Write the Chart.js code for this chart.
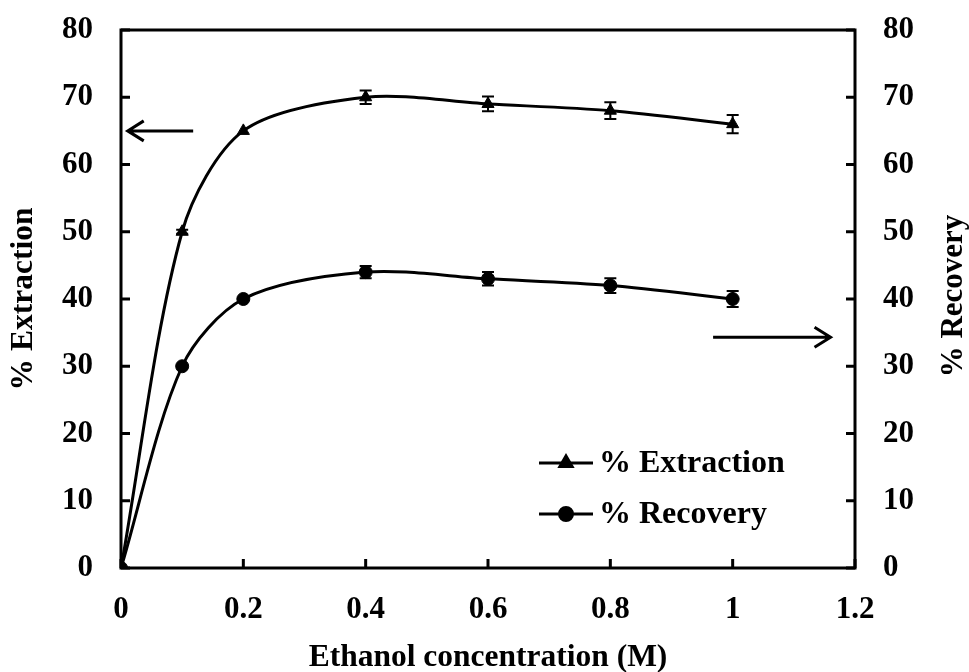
<!doctype html>
<html lang="en">
<head>
<meta charset="utf-8">
<title>Ethanol concentration</title>
<script src="https://cdn.jsdelivr.net/npm/chart.js"></script>
<style>
  html, body { margin: 0; padding: 0; background: #fff; }
  #wrap { width: 969px; height: 672px; }
</style>
</head>
<body>
<div id="wrap"><canvas id="chart" width="969" height="672"></canvas></div>
<script>
// data
var conc = [0, 0.1, 0.2, 0.4, 0.6, 0.8, 1.0];
var extraction = [0, 50, 65, 70, 69, 68, 66];
var extractionErr = [0, 0.3, 0, 1, 1.1, 1.25, 1.35];
var recovery = [0, 30, 40, 44, 43, 42, 40];
var recoveryErr = [0, 0, 0, 0.9, 1, 1.1, 1.2];

// arrows pointing to the matching axis: [xFrom, xTo, y]
var arrowLeft = [0.118, 0.011, 65];
var arrowRight = [0.968, 1.16, 34.3];

var FONT = "'Liberation Serif', 'Times New Roman', serif";

function pts(xs, ys) {
  return xs.map(function (x, i) { return { x: x, y: ys[i] }; });
}

var errBars = {
  id: 'errBars',
  afterDatasetsDraw: function (chart) {
    var ctx = chart.ctx, x = chart.scales.x, y = chart.scales.y;
    var sets = [[extraction, extractionErr], [recovery, recoveryErr]];
    ctx.save();
    ctx.strokeStyle = '#000';
    ctx.lineWidth = 2;
    sets.forEach(function (s) {
      conc.forEach(function (c, i) {
        if (!s[1][i]) return;
        var px = x.getPixelForValue(c);
        var hi = y.getPixelForValue(s[0][i] + s[1][i]);
        var lo = y.getPixelForValue(s[0][i] - s[1][i]);
        ctx.beginPath();
        ctx.moveTo(px, hi); ctx.lineTo(px, lo);
        ctx.moveTo(px - 6, hi); ctx.lineTo(px + 6, hi);
        ctx.moveTo(px - 6, lo); ctx.lineTo(px + 6, lo);
        ctx.stroke();
      });
    });
    ctx.restore();
  }
};

function arrow(ctx, x0, x1, y) {
  var dir = x1 > x0 ? 1 : -1;
  ctx.beginPath();
  ctx.moveTo(x0, y); ctx.lineTo(x1, y);
  ctx.moveTo(x1 - dir * 16, y - 10); ctx.lineTo(x1, y); ctx.lineTo(x1 - dir * 16, y + 10);
  ctx.stroke();
}

var frame = {
  id: 'frame',
  afterDraw: function (chart) {
    var ctx = chart.ctx, a = chart.chartArea;
    var x = chart.scales.x, y = chart.scales.y;
    ctx.save();
    ctx.strokeStyle = '#000';
    ctx.lineWidth = 3;
    ctx.strokeRect(a.left, a.top, a.right - a.left, a.bottom - a.top);
    // inside ticks
    ctx.beginPath();
    x.ticks.forEach(function (t) {
      var px = x.getPixelForValue(t.value);
      ctx.moveTo(px, a.bottom); ctx.lineTo(px, a.bottom - 9);
    });
    y.ticks.forEach(function (t) {
      var py = y.getPixelForValue(t.value);
      ctx.moveTo(a.left, py); ctx.lineTo(a.left + 9, py);
      ctx.moveTo(a.right, py); ctx.lineTo(a.right - 9, py);
    });
    ctx.stroke();

    // arrows
    arrow(ctx, x.getPixelForValue(arrowLeft[0]), x.getPixelForValue(arrowLeft[1]), y.getPixelForValue(arrowLeft[2]));
    arrow(ctx, x.getPixelForValue(arrowRight[0]), x.getPixelForValue(arrowRight[1]), y.getPixelForValue(arrowRight[2]));

    // right axis title, reading bottom to top like the left one
    ctx.fillStyle = '#000';
    ctx.font = 'bold 31px ' + FONT;
    ctx.textAlign = 'center';
    ctx.textBaseline = 'middle';
    ctx.save();
    ctx.translate(954, (a.top + a.bottom) / 2 - 3);
    ctx.rotate(-Math.PI / 2);
    ctx.fillText('% Recovery', 0, 0);
    ctx.restore();

    // legend inside the plot
    var items = [['% Extraction', 'triangle', 463, 7], ['% Recovery', 'circle', 514, 6.5]];
    ctx.font = 'bold 32px ' + FONT;
    ctx.textAlign = 'left';
    items.forEach(function (it) {
      ctx.beginPath();
      ctx.moveTo(539, it[2]); ctx.lineTo(593, it[2]);
      ctx.stroke();
      Chart.helpers.drawPoint(ctx, { pointStyle: it[1], radius: it[3], rotation: 0, borderWidth: 1 }, 566, it[2]);
      ctx.fill();
      ctx.fillText(it[0], 599, it[2] + 1);
    });
    ctx.restore();
  }
};

function fixWidth(w) {
  return function (s) { s.width = w; s.paddingTop = 0; s.paddingBottom = 0; };
}

var tickFont = { family: FONT, size: 31, weight: 'bold' };
var titleFont = { family: FONT, size: 31.5, weight: 'bold', lineHeight: 1 };
var xTitleFont = { family: FONT, size: 31.5, weight: 'bold', lineHeight: 0.9 };

new Chart(document.getElementById('chart'), {
  type: 'line',
  data: {
    datasets: [
      {
        label: '% Extraction',
        data: pts(conc, extraction),
        yAxisID: 'y',
        borderColor: '#000',
        backgroundColor: '#000',
        borderWidth: 3,
        pointStyle: 'triangle',
        pointRadius: 7,
        pointBorderWidth: 1,
        tension: 0.3
      },
      {
        label: '% Recovery',
        data: pts(conc, recovery),
        yAxisID: 'y2',
        borderColor: '#000',
        backgroundColor: '#000',
        borderWidth: 3,
        pointStyle: 'circle',
        pointRadius: 6.5,
        pointBorderWidth: 1,
        tension: 0.3
      }
    ]
  },
  options: {
    responsive: false,
    animation: false,
    events: [],
    layout: { padding: { top: 30, left: 0, right: 0, bottom: 0 } },
    plugins: { legend: { display: false }, tooltip: { enabled: false } },
    scales: {
      x: {
        type: 'linear',
        min: 0, max: 1.2,
        afterFit: function (s) { s.height = 104; s.paddingLeft = 0; s.paddingRight = 0; },
        grid: { display: false, drawTicks: false },
        border: { display: false },
        ticks: {
          stepSize: 0.2, padding: 23, color: '#000', font: tickFont,
          callback: function (v) { return String(+v.toFixed(1)); }
        },
        title: { display: true, text: 'Ethanol concentration (M)', color: '#000', font: xTitleFont, padding: 0 }
      },
      y: {
        position: 'left',
        min: 0, max: 80,
        afterFit: fixWidth(121),
        grid: { display: false, drawTicks: false },
        border: { display: false },
        ticks: { stepSize: 10, padding: 28, color: '#000', font: tickFont },
        title: { display: true, text: '% Extraction', color: '#000', font: titleFont, padding: 8 }
      },
      y2: {
        position: 'right',
        min: 0, max: 80,
        afterFit: fixWidth(114),
        grid: { display: false, drawTicks: false },
        border: { display: false },
        ticks: { stepSize: 10, padding: 28, color: '#000', font: tickFont }
      }
    }
  },
  plugins: [errBars, frame]
});
</script>
</body>
</html>
